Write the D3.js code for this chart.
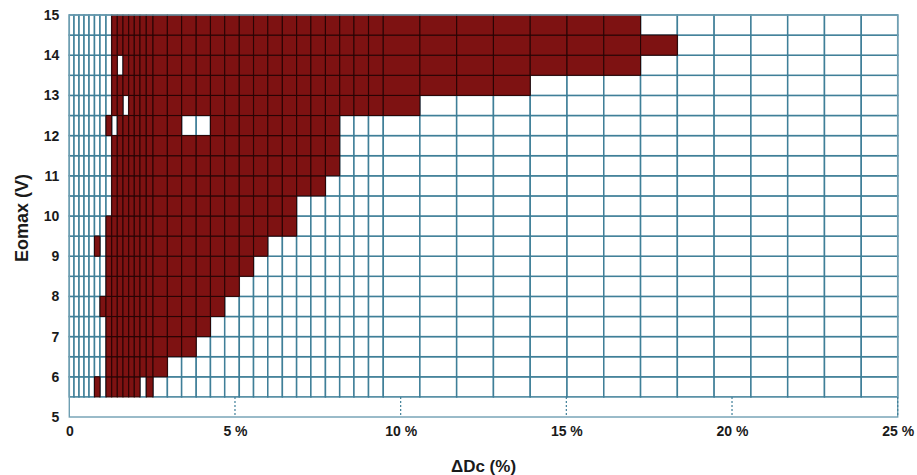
<!DOCTYPE html>
<html>
<head>
<meta charset="utf-8">
<script src="https://cdn.jsdelivr.net/npm/d3@7"></script>
<style>
  html, body { margin: 0; padding: 0; background: #ffffff; }
  svg { display: block; }
  text { font-family: "Liberation Sans", Arial, sans-serif; font-weight: bold; fill: #1a1a1a; }
</style>
</head>
<body>
<svg id="chart" width="917" height="475"></svg>
<script>
// Column boundaries along ΔDc (%) — the sampling is finer near zero
const dcEdges = [
  0, 0.142, 0.293, 0.444, 0.595, 0.76, 0.926, 1.107, 1.279, 1.448, 1.62, 1.792, 1.961, 2.133, 2.323, 2.526,
  2.96, 3.39, 3.83, 4.26, 4.69, 5.13, 5.56, 5.99, 6.43, 6.86, 7.29, 7.73, 8.16, 8.59, 9.03, 9.475,
  10.58, 11.69, 12.80, 13.91, 15.02, 16.13, 17.24, 18.35, 19.46, 20.57, 21.68, 22.79, 23.90, 25.0
];

// Lower edge of each Eomax row (V); each row spans 0.5 V
const eomaxRows = [5.5, 6, 6.5, 7, 7.5, 8, 8.5, 9, 9.5, 10, 10.5, 11, 11.5, 12, 12.5, 13, 13.5, 14, 14.5];
const rowStep = 0.5;

// Filled (failing) cells per row, as inclusive runs of column indices
const filledRuns = [
  [[5, 5], [7, 12], [14, 14]],   // 5.5 V
  [[7, 15]],                     // 6.0
  [[7, 17]],                     // 6.5
  [[7, 18]],                     // 7.0
  [[6, 19]],                     // 7.5
  [[7, 20]],                     // 8.0
  [[7, 21]],                     // 8.5
  [[5, 5], [7, 22]],             // 9.0
  [[7, 24]],                     // 9.5
  [[8, 24]],                     // 10.0
  [[8, 26]],                     // 10.5
  [[8, 27]],                     // 11.0
  [[8, 27]],                     // 11.5
  [[7, 7], [9, 16], [19, 27]],   // 12.0
  [[8, 9], [11, 31]],            // 12.5
  [[8, 34]],                     // 13.0
  [[8, 8], [10, 37]],            // 13.5
  [[8, 38]],                     // 14.0
  [[8, 37]]                      // 14.5
];

const xTicks = [0, 5, 10, 15, 20, 25];
const xTickLabels = ["0", "5 %", "10 %", "15 %", "20 %", "25 %"];
const yTicks = [5, 6, 7, 8, 9, 10, 11, 12, 13, 14, 15];
const xTitle = "\u0394Dc (%)";
const yTitle = "Eomax (V)";

const fillColor = "#7e1212";
const gridColor = "#3f7f98";
const cellLine = "#2a0404";

const svg = d3.select("#chart");
const margin = { left: 69.3, right: 19.3, top: 15, bottom: 58 };
const W = 917, H = 475;

const x = d3.scaleLinear().domain([0, 25]).range([margin.left, W - margin.right]);
const y = d3.scaleLinear().domain([5, 15]).range([H - margin.bottom, margin.top]);

// build the cell table
const cells = [];
eomaxRows.forEach((lo, r) => {
  const filled = new Set();
  filledRuns[r].forEach(([a, b]) => { for (let c = a; c <= b; c++) filled.add(c); });
  for (let c = 0; c < dcEdges.length - 1; c++) {
    cells.push({ x0: dcEdges[c], x1: dcEdges[c + 1], y0: lo, y1: lo + rowStep, on: filled.has(c) });
  }
});

const plot = svg.append("g");

// lower band below the first row
plot.append("rect")
  .attr("x", x(0)).attr("y", y(5.5))
  .attr("width", x(25) - x(0)).attr("height", y(5) - y(5.5))
  .attr("fill", "#fff");

// open cells first, then the filled ones so their dark outline sits on top
const drawCells = (data, fill, stroke, sw) => plot.append("g")
  .selectAll("rect").data(data).join("rect")
  .attr("x", d => x(d.x0))
  .attr("y", d => y(d.y1))
  .attr("width", d => x(d.x1) - x(d.x0))
  .attr("height", d => y(d.y0) - y(d.y1))
  .attr("fill", fill)
  .attr("stroke", stroke)
  .attr("stroke-width", sw);

drawCells(cells.filter(d => !d.on), "#ffffff", gridColor, 1.5);
drawCells(cells.filter(d => d.on), fillColor, cellLine, 1.1);

// frame
plot.append("rect")
  .attr("x", x(0)).attr("y", y(15))
  .attr("width", x(25) - x(0)).attr("height", y(5) - y(15))
  .attr("fill", "none").attr("stroke", "#6f9fb2").attr("stroke-width", 1.4);

// dashed tick marks inside the lower band
plot.append("g").selectAll("line").data(xTicks.slice(1)).join("line")
  .attr("x1", d => x(d)).attr("x2", d => x(d))
  .attr("y1", y(5.5)).attr("y2", y(5))
  .attr("stroke", gridColor).attr("stroke-width", 1.2)
  .attr("stroke-dasharray", "2,2");

// x axis labels
const xAxis = d3.axisBottom(x).tickValues(xTicks)
  .tickFormat((d, i) => xTickLabels[i]).tickSize(0).tickPadding(9);
const gx = svg.append("g").attr("transform", `translate(0,${y(5)})`).call(xAxis);
gx.select(".domain").remove();
gx.selectAll("text").style("font-size", "14px").style("font-family", "Liberation Sans, Arial, sans-serif")
  .style("font-weight", "bold").attr("fill", "#1a1a1a");

// y axis labels
const yAxis = d3.axisLeft(y).tickValues(yTicks).tickFormat(d3.format("d")).tickSize(0).tickPadding(10);
const gy = svg.append("g").attr("transform", `translate(${x(0)},0)`).call(yAxis);
gy.select(".domain").remove();
gy.selectAll("text").style("font-size", "14px").style("font-family", "Liberation Sans, Arial, sans-serif")
  .style("font-weight", "bold").attr("fill", "#1a1a1a");

// axis titles
svg.append("text")
  .attr("x", (x(0) + x(25)) / 2).attr("y", 472)
  .attr("text-anchor", "middle").style("font-size", "17px")
  .text(xTitle);

svg.append("text")
  .attr("transform", `translate(28,${y(10) + 2}) rotate(-90)`)
  .attr("text-anchor", "middle").style("font-size", "18px")
  .text(yTitle);
</script>
</body>
</html>
